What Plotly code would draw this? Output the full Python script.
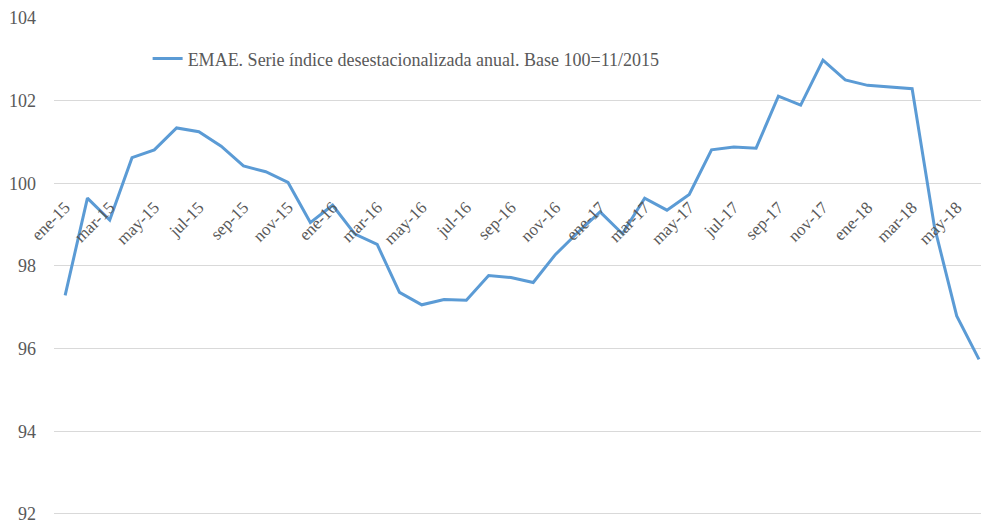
import plotly.graph_objects as go

months = ["ene", "feb", "mar", "abr", "may", "jun", "jul", "ago", "sep", "oct", "nov", "dic"]
categories = [f"{m}-{y}" for y in ["15", "16", "17", "18"] for m in months][:42]

emae = [97.29, 99.64, 99.11, 100.62, 100.81, 101.34, 101.25, 100.90, 100.42, 100.28, 100.02, 99.05,
        99.47, 98.77, 98.52, 97.36, 97.06, 97.19, 97.17, 97.77, 97.72, 97.60, 98.28, 98.81,
        99.31, 98.78, 99.64, 99.35, 99.73, 100.81, 100.88, 100.85, 102.11, 101.89, 102.98, 102.50,
        102.37, 102.33, 102.29, 98.95, 96.79, 95.74]

y_ticks = [92, 94, 96, 98, 100, 102, 104]
series_name = "EMAE. Serie índice desestacionalizada anual. Base 100=11/2015"

FONT = "Liberation Serif"
GREY = "#595959"
Y_MIN, Y_MAX = 91.95, 104

fig = go.Figure()
fig.add_trace(go.Scatter(
    x=categories, y=emae, mode="lines", name=series_name,
    line=dict(color="#5B9BD5", width=3),
))

fig.update_layout(
    width=981, height=524,
    margin=dict(l=54, r=0, t=18, b=8),
    paper_bgcolor="white", plot_bgcolor="white",
    font=dict(family=FONT, color=GREY, size=16),
    showlegend=True,
    legend=dict(x=0.101, y=0.918, xanchor="left", yanchor="middle",
                font=dict(family=FONT, size=18, color=GREY),
                bgcolor="rgba(0,0,0,0)"),
)
fig.update_xaxes(
    type="category", categoryorder="array", categoryarray=categories,
    range=[-0.5, 41.09],
    tickmode="array", tickvals=categories[::2], ticktext=categories[::2],
    tickangle=-45, showgrid=False, showline=False, zeroline=False, ticks="",
    anchor="free", position=(100 - Y_MIN) / (Y_MAX - Y_MIN),
    ticklabelstandoff=10, ticklabeloverflow="allow",
    tickfont=dict(family=FONT, size=17, color=GREY),
)
fig.update_yaxes(
    range=[Y_MIN, Y_MAX], tickvals=y_ticks, showgrid=True, gridcolor="#D9D9D9", gridwidth=1,
    zeroline=False, showline=False, ticks="", ticklabelstandoff=17,
    ticklabeloverflow="allow",
    tickfont=dict(family=FONT, size=18, color=GREY),
)

fig.write_html("out.html")
